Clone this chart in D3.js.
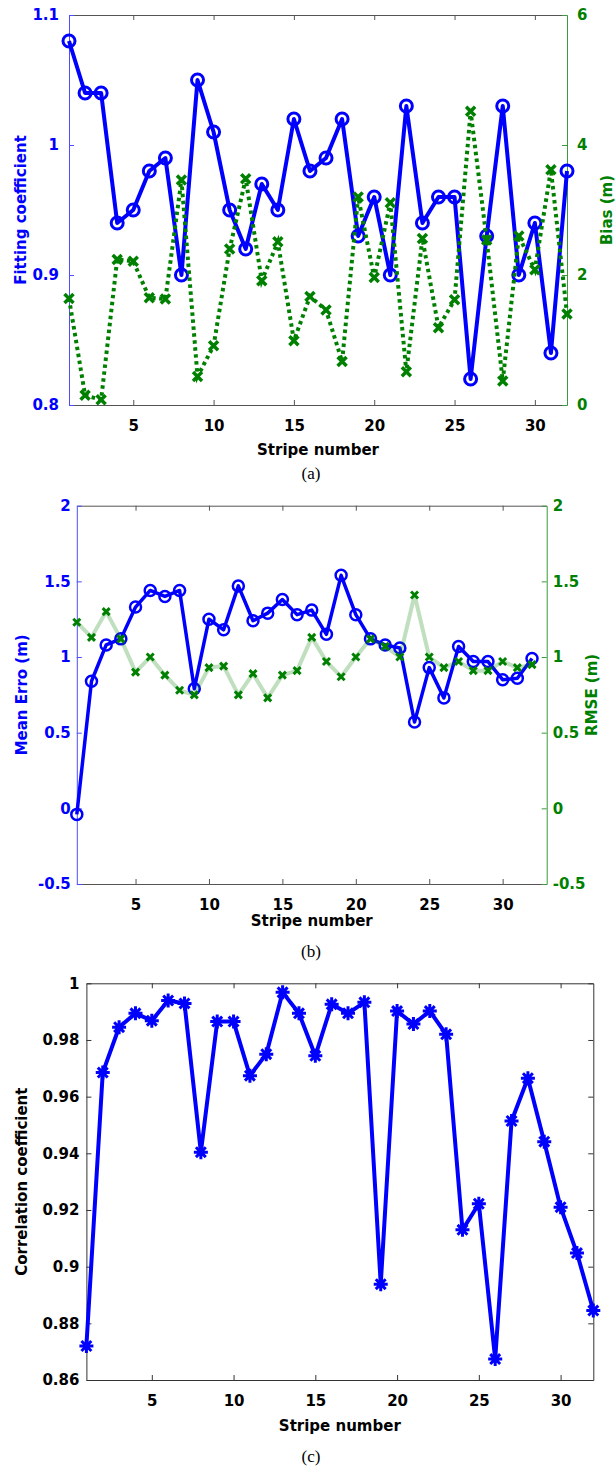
<!DOCTYPE html>
<html>
<head>
<meta charset="utf-8">
<script src="https://cdn.jsdelivr.net/npm/d3@7"></script>
<style>
  body { margin: 0; background: #fff; }
  svg { display: block; }
</style>
</head>
<body>
<svg id="fig" width="615" height="1469"></svg>
<script>
// Stripe indices shared by all three panels
const stripes = [1,2,3,4,5,6,7,8,9,10,11,12,13,14,15,16,17,18,19,20,21,22,23,24,25,26,27,28,29,30,31,32];

// (a) fitting coefficient and bias
const fittingCoef = [1.08,1.04,1.04,0.94,0.95,0.98,0.99,0.90,1.05,1.01,0.95,0.92,0.97,0.95,1.02,0.98,
                     0.99,1.02,0.93,0.96,0.90,1.03,0.94,0.96,0.96,0.82,0.93,1.03,0.90,0.94,0.84,0.98];
const biasM = [1.64,0.15,0.08,2.24,2.21,1.65,1.63,3.46,0.44,0.91,2.40,3.48,1.91,2.51,0.99,1.67,
               1.46,0.67,3.20,1.96,3.11,0.51,2.56,1.19,1.62,4.52,2.54,0.37,2.60,2.08,3.62,1.40];

// (b) mean error and RMSE
const meanErr = [-0.04,0.84,1.08,1.12,1.33,1.44,1.40,1.44,0.79,1.25,1.18,1.47,1.24,1.29,1.38,1.28,
                 1.31,1.15,1.54,1.28,1.12,1.08,1.06,0.57,0.93,0.73,1.07,0.97,0.97,0.85,0.86,0.99];
const rmse = [1.23,1.13,1.30,1.12,0.90,1.00,0.88,0.78,0.75,0.93,0.94,0.75,0.89,0.73,0.88,0.91,
              1.13,0.97,0.87,1.00,1.12,1.07,1.00,1.41,1.00,0.93,0.97,0.91,0.91,0.97,0.93,0.95];

// (c) correlation coefficient
const corrCoef = [0.872,0.9685,0.9845,0.9894,0.9868,0.9939,0.9929,0.9404,0.9865,0.9865,0.9674,0.975,
                  0.9968,0.9894,0.9744,0.9926,0.9894,0.9933,0.8938,0.9902,0.9856,0.9902,0.982,0.913,
                  0.9222,0.8674,0.9514,0.9665,0.9441,0.921,0.9048,0.8845];

// Tick values
const xTicks = [5,10,15,20,25,30];
const fitTicks = [0.8,0.9,1,1.1];
const biasTicks = [0,2,4,6];
const errTicks = [-0.5,0,0.5,1,1.5,2];
const corrTicks = [0.86,0.88,0.9,0.92,0.94,0.96,0.98,1];

const BLUE = "#0000ff";
const GREEN = "#008000";
const GRAY = "#555555";
const SANS = "'DejaVu Sans', sans-serif";
const SERIF = "'Liberation Serif', 'Times New Roman', serif";

const svg = d3.select("#fig");

function styleAxis(sel, color, textColor) {
  sel.attr("font-family", SANS).attr("font-size", 15).attr("font-weight", "bold");
  sel.select(".domain").attr("stroke", color).attr("stroke-width", 1);
  sel.selectAll(".tick line").attr("stroke", color).attr("stroke-width", 1);
  sel.selectAll(".tick text").attr("fill", textColor);
}

// plain hyphen for negative values
function fmt(v) { return d3.format("~g")(v).replace("\u2212", "-"); }

function drawFrame(p) {
  const g = svg.append("g");
  // top
  g.append("g").attr("transform", `translate(0,${p.top})`)
    .call(d3.axisTop(p.x).tickValues(xTicks).tickSizeInner(-5).tickSizeOuter(0).tickFormat(""))
    .call(s => styleAxis(s, p.frameColor, "#000"));
  // bottom
  g.append("g").attr("transform", `translate(0,${p.bottom})`)
    .call(d3.axisBottom(p.x).tickValues(xTicks).tickSizeInner(-5).tickSizeOuter(0).tickPadding(15).tickFormat(fmt))
    .call(s => styleAxis(s, p.frameColor, "#000"));
  // left
  g.append("g").attr("transform", `translate(${p.left},0)`)
    .call(d3.axisLeft(p.yL).tickValues(p.yLTicks).tickSizeInner(-5).tickSizeOuter(0).tickPadding(p.padL).tickFormat(fmt))
    .call(s => styleAxis(s, p.leftColor, p.leftText));
  // right
  g.append("g").attr("transform", `translate(${p.right},0)`)
    .call(d3.axisRight(p.yR).tickValues(p.yRTicks).tickSizeInner(-5).tickSizeOuter(0).tickPadding(p.padR)
      .tickFormat(p.rightLabels ? fmt : ""))
    .call(s => styleAxis(s, p.rightColor, p.rightText));

  // axis titles
  const mid = (p.top + p.bottom) / 2;
  g.append("text").attr("x", (p.left + p.right) / 2).attr("y", p.xTitleY)
    .attr("text-anchor", "middle").attr("font-family", SANS).attr("font-size", 15)
    .attr("font-weight", "bold").attr("fill", "#000").text("Stripe number");
  g.append("text").attr("transform", `translate(${p.yLTitleX},${mid}) rotate(-90)`)
    .attr("text-anchor", "middle").attr("font-family", SANS).attr("font-size", 15)
    .attr("font-weight", "bold").attr("fill", p.leftText).text(p.yLTitle);
  if (p.yRTitle) {
    g.append("text").attr("transform", `translate(${p.yRTitleX},${mid}) rotate(-90)`)
      .attr("text-anchor", "middle").attr("font-family", SANS).attr("font-size", 15)
      .attr("font-weight", "bold").attr("fill", p.rightText).text(p.yRTitle);
  }
  g.append("text").attr("x", 311).attr("y", p.captionY).attr("text-anchor", "middle")
    .attr("font-family", SERIF).attr("font-size", 17).attr("fill", "#000").text(p.caption);
  return g;
}

function crossPath(s) { return `M${-s},${-s}L${s},${s}M${-s},${s}L${s},${-s}`; }
function starPath(s) {
  const d = s * Math.SQRT1_2;
  return `M${-s},0L${s},0M0,${-s}L0,${s}M${-d},${-d}L${d},${d}M${-d},${d}L${d},${-d}`;
}

// ---------- (a) ----------
{
  const x = d3.scaleLinear().domain([1, 32]).range([69, 567]);
  const yL = d3.scaleLinear().domain([0.8, 1.1]).range([405, 15]);
  const yR = d3.scaleLinear().domain([0, 6]).range([405, 15]);
  drawFrame({
    x, yL, yR, top: 15, bottom: 405, left: 69, right: 567,
    yLTicks: fitTicks, yRTicks: biasTicks, padL: 10, padR: 10, rightLabels: true,
    frameColor: GRAY, leftColor: "#4d4dff", leftText: BLUE, rightColor: "#3c9a3c", rightText: GREEN,
    xTitleY: 455, yLTitle: "Fitting coefficient", yLTitleX: 26, yRTitle: "Bias (m)", yRTitleX: 612,
    captionY: 479, caption: "(a)"
  });
  const g = svg.append("g");
  g.append("path").datum(stripes)
    .attr("d", d3.line().x(d => x(d)).y((d, i) => yL(fittingCoef[i])))
    .attr("fill", "none").attr("stroke", BLUE).attr("stroke-width", 4).attr("stroke-linejoin", "round");
  g.selectAll("circle.fit").data(stripes).join("circle").attr("class", "fit")
    .attr("cx", d => x(d)).attr("cy", (d, i) => yL(fittingCoef[i])).attr("r", 6)
    .attr("fill", "none").attr("stroke", BLUE).attr("stroke-width", 3);
  g.append("path").datum(stripes)
    .attr("d", d3.line().x(d => x(d)).y((d, i) => yR(biasM[i])))
    .attr("fill", "none").attr("stroke", GREEN).attr("stroke-width", 4).attr("stroke-dasharray", "3.5,3.5");
  g.selectAll("path.bias").data(stripes).join("path").attr("class", "bias")
    .attr("transform", (d, i) => `translate(${x(d)},${yR(biasM[i])})`)
    .attr("d", crossPath(4.5)).attr("fill", "none").attr("stroke", GREEN).attr("stroke-width", 3.5);
}

// ---------- (b) ----------
{
  const x = d3.scaleLinear().domain([1, 33]).range([76.8, 546.7]);
  const yL = d3.scaleLinear().domain([-0.5, 2]).range([884, 505.7]);
  const yR = d3.scaleLinear().domain([-0.5, 2]).range([884, 505.7]);
  drawFrame({
    x, yL, yR, top: 505.7, bottom: 884, left: 76.8, right: 546.7,
    yLTicks: errTicks, yRTicks: errTicks, padL: 6, padR: 6, rightLabels: true,
    frameColor: GRAY, leftColor: "#4d4dff", leftText: BLUE, rightColor: "#3c9a3c", rightText: GREEN,
    xTitleY: 926, yLTitle: "Mean Erro (m)", yLTitleX: 27, yRTitle: "RMSE (m)", yRTitleX: 597,
    captionY: 957, caption: "(b)"
  });
  const g = svg.append("g");
  g.append("path").datum(stripes)
    .attr("d", d3.line().x(d => x(d)).y((d, i) => yL(meanErr[i])))
    .attr("fill", "none").attr("stroke", BLUE).attr("stroke-width", 3.5).attr("stroke-linejoin", "round");
  g.selectAll("circle.err").data(stripes).join("circle").attr("class", "err")
    .attr("cx", d => x(d)).attr("cy", (d, i) => yL(meanErr[i])).attr("r", 5.5)
    .attr("fill", "none").attr("stroke", BLUE).attr("stroke-width", 2.5);
  g.append("path").datum(stripes)
    .attr("d", d3.line().x(d => x(d)).y((d, i) => yR(rmse[i])))
    .attr("fill", "none").attr("stroke", GREEN).attr("stroke-opacity", 0.25).attr("stroke-width", 4)
    .attr("stroke-linejoin", "round");
  g.selectAll("path.rmse").data(stripes).join("path").attr("class", "rmse")
    .attr("transform", (d, i) => `translate(${x(d)},${yR(rmse[i])})`)
    .attr("d", crossPath(3.5)).attr("fill", "none").attr("stroke", GREEN).attr("stroke-width", 3);
}

// ---------- (c) ----------
{
  const x = d3.scaleLinear().domain([1, 32]).range([86.4, 593.3]);
  const y = d3.scaleLinear().domain([0.86, 1]).range([1380, 983.3]);
  drawFrame({
    x, yL: y, yR: y, top: 983.3, bottom: 1380, left: 86.4, right: 593.3,
    yLTicks: corrTicks, yRTicks: corrTicks, padL: 7, padR: 6, rightLabels: false,
    frameColor: "#333333", leftColor: "#333333", leftText: "#000", rightColor: "#333333", rightText: "#000",
    xTitleY: 1431, yLTitle: "Correlation coefficient", yLTitleX: 27, yRTitle: null,
    captionY: 1462, caption: "(c)"
  });
  const g = svg.append("g");
  g.append("path").datum(stripes)
    .attr("d", d3.line().x(d => x(d)).y((d, i) => y(corrCoef[i])))
    .attr("fill", "none").attr("stroke", BLUE).attr("stroke-width", 4).attr("stroke-linejoin", "round");
  g.selectAll("path.corr").data(stripes).join("path").attr("class", "corr")
    .attr("transform", (d, i) => `translate(${x(d)},${y(corrCoef[i])})`)
    .attr("d", starPath(7)).attr("fill", "none").attr("stroke", BLUE).attr("stroke-width", 3);
}
</script>
</body>
</html>
